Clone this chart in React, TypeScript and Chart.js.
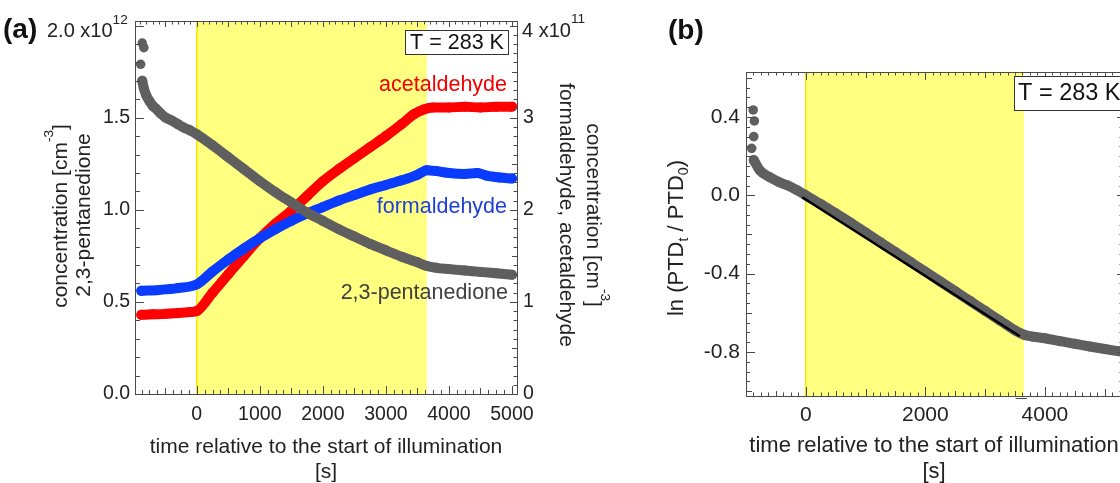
import React, { useEffect, useRef } from "react";
import { Chart, registerables } from "chart.js";

Chart.register(...registerables);

const FONT = "'Liberation Sans', Arial, Helvetica, sans-serif";
const GRAY = "#5f5f5f";
const RED = "#ff0000";
const BLUE = "#0a3cff";

// ---------------- Panel (a) ----------------
// 2,3-pentanedione (left axis, x10^12 cm^-3)
const ptdTimeA = [-865, -840, -800, -750, -700, -650, -580, -490, -400, -300, -200, -100, 0, 250, 500, 750, 1000, 1250, 1500, 1750, 2000, 2250, 2500, 2750, 3000, 3250, 3500, 3650, 3800, 4000, 4250, 4500, 4750, 5000];
const ptdConcA = [1.70, 1.66, 1.62, 1.59, 1.565, 1.55, 1.525, 1.50, 1.485, 1.465, 1.445, 1.43, 1.41, 1.35, 1.285, 1.22, 1.155, 1.095, 1.04, 0.985, 0.94, 0.895, 0.855, 0.815, 0.78, 0.745, 0.715, 0.695, 0.685, 0.678, 0.67, 0.663, 0.655, 0.647];
const ptdEarlyTimeA = [-865, -840, -890];
const ptdEarlyConcA = [1.905, 1.88, 1.79];
// acetaldehyde (right axis, x10^11 cm^-3)
const acetTimeA = [-880, -700, -500, -300, -100, 0, 250, 500, 750, 1000, 1250, 1500, 1750, 2000, 2250, 2500, 2750, 3000, 3250, 3450, 3600, 3750, 4000, 4250, 4500, 4750, 5000];
const acetConcA = [0.86, 0.865, 0.87, 0.88, 0.89, 0.90, 1.10, 1.30, 1.50, 1.69, 1.85, 1.99, 2.15, 2.31, 2.44, 2.56, 2.68, 2.80, 2.93, 3.04, 3.09, 3.11, 3.11, 3.12, 3.11, 3.12, 3.12];
// formaldehyde (right axis, x10^11 cm^-3)
const formTimeA = [-880, -600, -300, 0, 250, 500, 750, 1000, 1250, 1500, 1750, 2000, 2250, 2500, 2750, 3000, 3250, 3500, 3650, 3800, 4000, 4250, 4450, 4600, 4800, 5000];
const formConcA = [1.12, 1.13, 1.15, 1.19, 1.33, 1.46, 1.58, 1.69, 1.79, 1.88, 1.96, 2.03, 2.10, 2.16, 2.22, 2.27, 2.32, 2.38, 2.43, 2.42, 2.40, 2.39, 2.40, 2.37, 2.35, 2.34];

const illumination = [0, 3650];
const xTicksA = [0, 1000, 2000, 3000, 4000, 5000];
const leftTicksA = [0, 0.5, 1.0, 1.5];
const rightTicksA = [0, 1, 2, 3];
const xTitle = ["time relative to the start of illumination", "[s]"];

// ---------------- Panel (b) ----------------
const lnTimeB = [-870, -770, -600, -450, -300, -150, 0, 250, 500, 750, 1000, 1250, 1500, 1750, 2000, 2250, 2500, 2750, 3000, 3250, 3500, 3650, 3800, 4000, 4250, 4500, 4750, 5000, 5250];
const lnValB = [0.18, 0.128, 0.092, 0.068, 0.05, 0.027, 0.0, -0.045, -0.092, -0.14, -0.19, -0.24, -0.29, -0.34, -0.39, -0.44, -0.49, -0.54, -0.59, -0.64, -0.69, -0.712, -0.722, -0.73, -0.745, -0.758, -0.772, -0.785, -0.797];
const lnEarlyTimeB = [-880, -860, -870, -905];
const lnEarlyValB = [0.436, 0.38, 0.30, 0.24];
const fitTimeB = [-60, 3580];
const fitValB = [-0.01, -0.72];
const xTicksB = [0, 2000, 4000];
const yTicksB = [-0.8, -0.4, 0.0, 0.4];

const pts = (xs: number[], ys: number[]) => xs.map((x, i) => ({ x, y: ys[i] }));

function band(label: string, data: any[], color: string, yAxisID: string) {
  return {
    label, data, yAxisID, showLine: true,
    borderColor: color, backgroundColor: color,
    borderWidth: 10, pointRadius: 5, pointBorderWidth: 0,
    borderCapStyle: "round", borderJoinStyle: "round",
    cubicInterpolationMode: "monotone",
  };
}
function dots(label: string, data: any[], color: string, yAxisID: string) {
  return { label, data, yAxisID, showLine: false, backgroundColor: color, borderColor: color, pointRadius: 4.8, pointBorderWidth: 0 };
}

type Part = { t: string; s?: number; dy?: number; bold?: boolean };
function rich(ctx: CanvasRenderingContext2D, parts: Part[], x: number, y: number, size: number, color: string, align = "center", rot = 0) {
  ctx.save();
  ctx.translate(x, y);
  ctx.rotate(rot);
  ctx.fillStyle = color;
  ctx.textBaseline = "middle";
  ctx.textAlign = "left";
  const fonts = parts.map((p) => `${p.bold ? "bold " : ""}${size * (p.s ?? 1)}px ${FONT}`);
  const widths = parts.map((p, i) => { ctx.font = fonts[i]; return ctx.measureText(p.t).width; });
  const total = widths.reduce((a, b) => a + b, 0);
  let cx = align === "left" ? 0 : align === "right" ? -total : -total / 2;
  parts.forEach((p, i) => { ctx.font = fonts[i]; ctx.fillText(p.t, cx, (p.dy ?? 0) * size); cx += widths[i]; });
  ctx.restore();
  return total;
}

function steps(a: number, b: number, step: number) {
  const out: number[] = [];
  const n = Math.round((b - a) / step);
  for (let i = 0; i <= n; i++) out.push(+(a + i * step).toFixed(6));
  return out;
}
const isMult = (v: number, m: number) => Math.abs(v / m - Math.round(v / m)) < 1e-6;

const FRAME = "#4a4a4a";
function drawTicks(ctx: CanvasRenderingContext2D, scale: any, area: any, vals: number[], side: string, len: (v: number) => number) {
  ctx.save();
  ctx.strokeStyle = FRAME;
  ctx.lineWidth = 1;
  ctx.beginPath();
  for (const v of vals) {
    const p = Math.round(scale.getPixelForValue(v)) + 0.5;
    const L = len(v);
    if (side === "bottom" || side === "top") {
      if (p < area.left - 0.5 || p > area.right + 0.5) continue;
      const y0 = side === "bottom" ? area.bottom : area.top;
      ctx.moveTo(p, y0);
      ctx.lineTo(p, side === "bottom" ? y0 - L : y0 + L);
    } else {
      if (p < area.top - 0.5 || p > area.bottom + 0.5) continue;
      const x0 = side === "left" ? area.left : area.right;
      ctx.moveTo(x0, p);
      ctx.lineTo(side === "left" ? x0 + L : x0 - L, p);
    }
  }
  ctx.stroke();
  ctx.restore();
}
function drawFrame(ctx: CanvasRenderingContext2D, a: any) {
  ctx.save();
  ctx.strokeStyle = FRAME;
  ctx.lineWidth = 1;
  ctx.strokeRect(Math.round(a.left) + 0.5, Math.round(a.top) + 0.5, Math.round(a.right - a.left), Math.round(a.bottom - a.top));
  ctx.restore();
}
function drawBand(chart: any) {
  const { ctx, chartArea: a, scales } = chart;
  const x0 = scales.x.getPixelForValue(illumination[0]);
  const x1 = scales.x.getPixelForValue(illumination[1]);
  ctx.save();
  ctx.fillStyle = "#ffff80";
  ctx.fillRect(x0, a.top, x1 - x0, a.bottom - a.top);
  ctx.strokeStyle = "#f4ec00";
  ctx.lineWidth = 1.5;
  ctx.beginPath();
  ctx.moveTo(x0, a.top);
  ctx.lineTo(x0, a.bottom);
  ctx.stroke();
  ctx.restore();
}
function tBox(ctx: CanvasRenderingContext2D, x0: number, y0: number, x1: number, y1: number, size: number, textX: number | null) {
  ctx.save();
  ctx.fillStyle = "#fff";
  ctx.fillRect(x0, y0, x1 - x0, y1 - y0);
  ctx.strokeStyle = "#333";
  ctx.lineWidth = 1;
  ctx.strokeRect(x0 + 0.5, y0 + 0.5, x1 - x0, y1 - y0);
  ctx.restore();
  if (textX === null) rich(ctx, [{ t: "T = 283 K" }], (x0 + x1) / 2 + 0.5, (y0 + y1) / 2 + 1, size, "#111", "center");
  else rich(ctx, [{ t: "T = 283 K" }], textX, (y0 + y1) / 2 + 1, size, "#111", "left");
}

const W_A = 620;
const W_B = 540;
const LEFT_B = 640;

const decorA = {
  id: "decorA",
  beforeDatasetsDraw(chart: any) { drawBand(chart); },
  afterDatasetsDraw(chart: any) {
    const { ctx, chartArea: a, scales } = chart;
    drawFrame(ctx, a);
    drawTicks(ctx, scales.x, a, steps(-875, 5000, 125), "bottom", (v) => (isMult(v, 1000) ? 8 : isMult(v, 500) ? 6 : 4));
    drawTicks(ctx, scales.x, a, steps(-900, 5000, 100), "top", (v) => (isMult(v, 500) ? 6 : 3.5));
    drawTicks(ctx, scales.yL, a, steps(0, 2.0, 0.1), "left", (v) => (isMult(v, 0.5) ? 9 : 5));
    drawTicks(ctx, scales.yR, a, steps(0, 4.0, 0.1), "right", (v) => (isMult(v, 1) ? 7 : isMult(v, 0.5) ? 5 : 3.5));
  },
  afterDraw(chart: any) {
    const ctx = chart.ctx as CanvasRenderingContext2D;
    rich(ctx, [{ t: "(a)", bold: true }], 3, 30, 28, "#111", "left");
    rich(ctx, [{ t: "2.0 x10" }, { t: "12", s: 0.68, dy: -0.55 }], 47, 31, 20, "#222", "left");
    rich(ctx, [{ t: "4 x10" }, { t: "11", s: 0.68, dy: -0.6 }], 522, 31, 20, "#222", "left");
    tBox(ctx, 405, 30, 508, 54, 21.5, null);
    rich(ctx, [{ t: "acetaldehyde" }], 507, 85, 21.5, "#f00000", "right");
    rich(ctx, [{ t: "formaldehyde" }], 507, 207, 21.5, "#1f3fd8", "right");
    rich(ctx, [{ t: "2,3-pentanedione" }], 508, 293, 21.5, "#404040", "right");
    // left axis title
    rich(ctx, [{ t: "concentration [cm" }, { t: "-3", s: 0.65, dy: -0.55 }, { t: "]" }], 61, 216, 21, "#222", "center", -Math.PI / 2);
    rich(ctx, [{ t: "2,3-pentanedione" }], 84, 215, 21, "#222", "center", -Math.PI / 2);
    // right axis title
    rich(ctx, [{ t: "concentration [cm" }, { t: "-3", s: 0.65, dy: -0.55 }, { t: "]" }], 593, 215, 21, "#222", "center", Math.PI / 2);
    rich(ctx, [{ t: "formaldehyde, acetaldehyde" }], 566, 215, 21, "#222", "center", Math.PI / 2);
  },
};

const decorB = {
  id: "decorB",
  beforeDatasetsDraw(chart: any) { drawBand(chart); },
  afterDatasetsDraw(chart: any) {
    const { ctx, chartArea: a, scales } = chart;
    drawFrame(ctx, a);
    drawTicks(ctx, scales.x, a, steps(-1000, 5250, 125), "bottom", (v) => (isMult(v, 2000) ? 9 : isMult(v, 1000) ? 7 : isMult(v, 500) ? 5 : 3.5));
    drawTicks(ctx, scales.x, a, steps(-1000, 5250, 125), "top", (v) => (isMult(v, 2000) ? 8 : isMult(v, 1000) ? 6 : 3.5));
    drawTicks(ctx, scales.y, a, steps(-1.0, 0.6, 0.05), "left", (v) => (isMult(v, 0.4) ? 9 : isMult(v, 0.2) ? 6 : 4));
    drawTicks(ctx, scales.y, a, steps(-1.0, 0.6, 0.05), "right", (v) => (isMult(v, 0.4) ? 5 : 2.5));
    // small dash below the axis near the end of illumination
    const xa = scales.x.getPixelForValue(3510);
    const xb = scales.x.getPixelForValue(3700);
    ctx.save();
    ctx.strokeStyle = FRAME;
    ctx.lineWidth = 1;
    ctx.beginPath();
    ctx.moveTo(xa, a.bottom + 2.5);
    ctx.lineTo(xb, a.bottom + 2.5);
    ctx.stroke();
    ctx.restore();
  },
  afterDraw(chart: any) {
    const ctx = chart.ctx as CanvasRenderingContext2D;
    const o = LEFT_B;
    rich(ctx, [{ t: "(b)", bold: true }], 668 - o, 31, 28, "#111", "left");
    tBox(ctx, 1014 - o, 76, 1130 - o, 110, 23.5, 1018 - o);
    rich(ctx, [{ t: "ln (PTD" }, { t: "t", s: 0.65, dy: 0.32 }, { t: " / PTD" }, { t: "0", s: 0.65, dy: 0.32 }, { t: ")" }], 677 - o, 238, 22, "#222", "center", -Math.PI / 2);
  },
};

export default function App() {
  const refA = useRef<HTMLCanvasElement>(null);
  const refB = useRef<HTMLCanvasElement>(null);

  useEffect(() => {
    const common = {
      responsive: false,
      animation: false,
      devicePixelRatio: 1,
      events: [],
      plugins: { legend: { display: false }, tooltip: { enabled: false } },
    };
    const tickFont = (size: number) => ({ family: FONT, size });

    const chartA = new Chart(refA.current!, {
      type: "scatter",
      data: {
        datasets: [
          band("2,3-pentanedione", pts(ptdTimeA, ptdConcA), GRAY, "yL"),
          dots("2,3-pentanedione (start)", pts(ptdEarlyTimeA, ptdEarlyConcA), GRAY, "yL"),
          band("formaldehyde", pts(formTimeA, formConcA), BLUE, "yR"),
          band("acetaldehyde", pts(acetTimeA, acetConcA), RED, "yR"),
        ] as any,
      },
      options: {
        ...common,
        layout: { padding: { top: 21, left: 0, right: 0, bottom: 0 }, autoPadding: false },
        scales: {
          x: {
            type: "linear", position: "bottom", min: -980, max: 5080,
            afterBuildTicks: (s: any) => { s.ticks = xTicksA.map((value) => ({ value })); },
            afterFit: (s: any) => { s.height = 89; },
            grid: { display: false, drawTicks: false }, border: { display: false },
            ticks: { padding: 9, color: "#222", font: tickFont(19.5), maxRotation: 0, autoSkip: false, callback: (v: any) => String(v) },
            title: { display: true, text: xTitle, color: "#222", font: { family: FONT, size: 21, lineHeight: 1.2 }, padding: { top: 0, bottom: -1.6 } },
          },
          yL: {
            type: "linear", position: "left", min: 0, max: 2.025,
            afterBuildTicks: (s: any) => { s.ticks = leftTicksA.map((value) => ({ value })); },
            afterFit: (s: any) => { s.width = 135; },
            grid: { display: false, drawTicks: false }, border: { display: false },
            ticks: { padding: 5, color: "#222", font: tickFont(19.5), autoSkip: false, callback: (v: any) => Number(v).toFixed(1) },
          },
          yR: {
            type: "linear", position: "right", min: 0, max: 4.05,
            afterBuildTicks: (s: any) => { s.ticks = rightTicksA.map((value) => ({ value })); },
            afterFit: (s: any) => { s.width = W_A - 517; },
            grid: { display: false, drawTicks: false }, border: { display: false },
            ticks: { padding: 6, color: "#222", font: tickFont(19.5), autoSkip: false, callback: (v: any) => String(v) },
          },
        },
      } as any,
      plugins: [decorA],
    });

    const chartB = new Chart(refB.current!, {
      type: "scatter",
      data: {
        datasets: [
          { label: "linear fit", data: pts(fitTimeB, fitValB), yAxisID: "y", showLine: true, borderColor: "#000", backgroundColor: "#000", borderWidth: 2.5, pointRadius: 0 },
          band("ln(PTDt/PTD0)", pts(lnTimeB, lnValB), GRAY, "y"),
          dots("ln(PTDt/PTD0) (start)", pts(lnEarlyTimeB, lnEarlyValB), GRAY, "y"),
        ] as any,
      },
      options: {
        ...common,
        layout: { padding: { top: 72, left: 0, right: W_B - 482, bottom: 0 }, autoPadding: false },
        scales: {
          x: {
            type: "linear", position: "bottom", min: -1000, max: 5290,
            afterBuildTicks: (s: any) => { s.ticks = xTicksB.map((value) => ({ value })); },
            afterFit: (s: any) => { s.height = 87; },
            grid: { display: false, drawTicks: false }, border: { display: false },
            ticks: { padding: 7, color: "#222", font: tickFont(21), maxRotation: 0, autoSkip: false, callback: (v: any) => String(v) },
            title: { display: true, text: xTitle, color: "#222", font: { family: FONT, size: 22, lineHeight: 1.2 }, padding: { top: 0, bottom: -2.2 } },
          },
          y: {
            type: "linear", position: "left", min: -1.025, max: 0.63,
            afterBuildTicks: (s: any) => { s.ticks = yTicksB.map((value) => ({ value })); },
            afterFit: (s: any) => { s.width = 106; },
            grid: { display: false, drawTicks: false }, border: { display: false },
            ticks: { padding: 6, color: "#222", font: tickFont(21), autoSkip: false, callback: (v: any) => Number(v).toFixed(1) },
          },
        },
      } as any,
      plugins: [decorB],
    });

    return () => { chartA.destroy(); chartB.destroy(); };
  }, []);

  return (
    <div style={{ position: "fixed", left: 0, top: 0, width: 1120, height: 483, overflow: "hidden", background: "#fff" }}>
      <canvas ref={refA} width={W_A} height={483} style={{ position: "absolute", left: 0, top: 0, display: "block" }} />
      <canvas ref={refB} width={W_B} height={483} style={{ position: "absolute", left: LEFT_B, top: 0, display: "block" }} />
    </div>
  );
}
